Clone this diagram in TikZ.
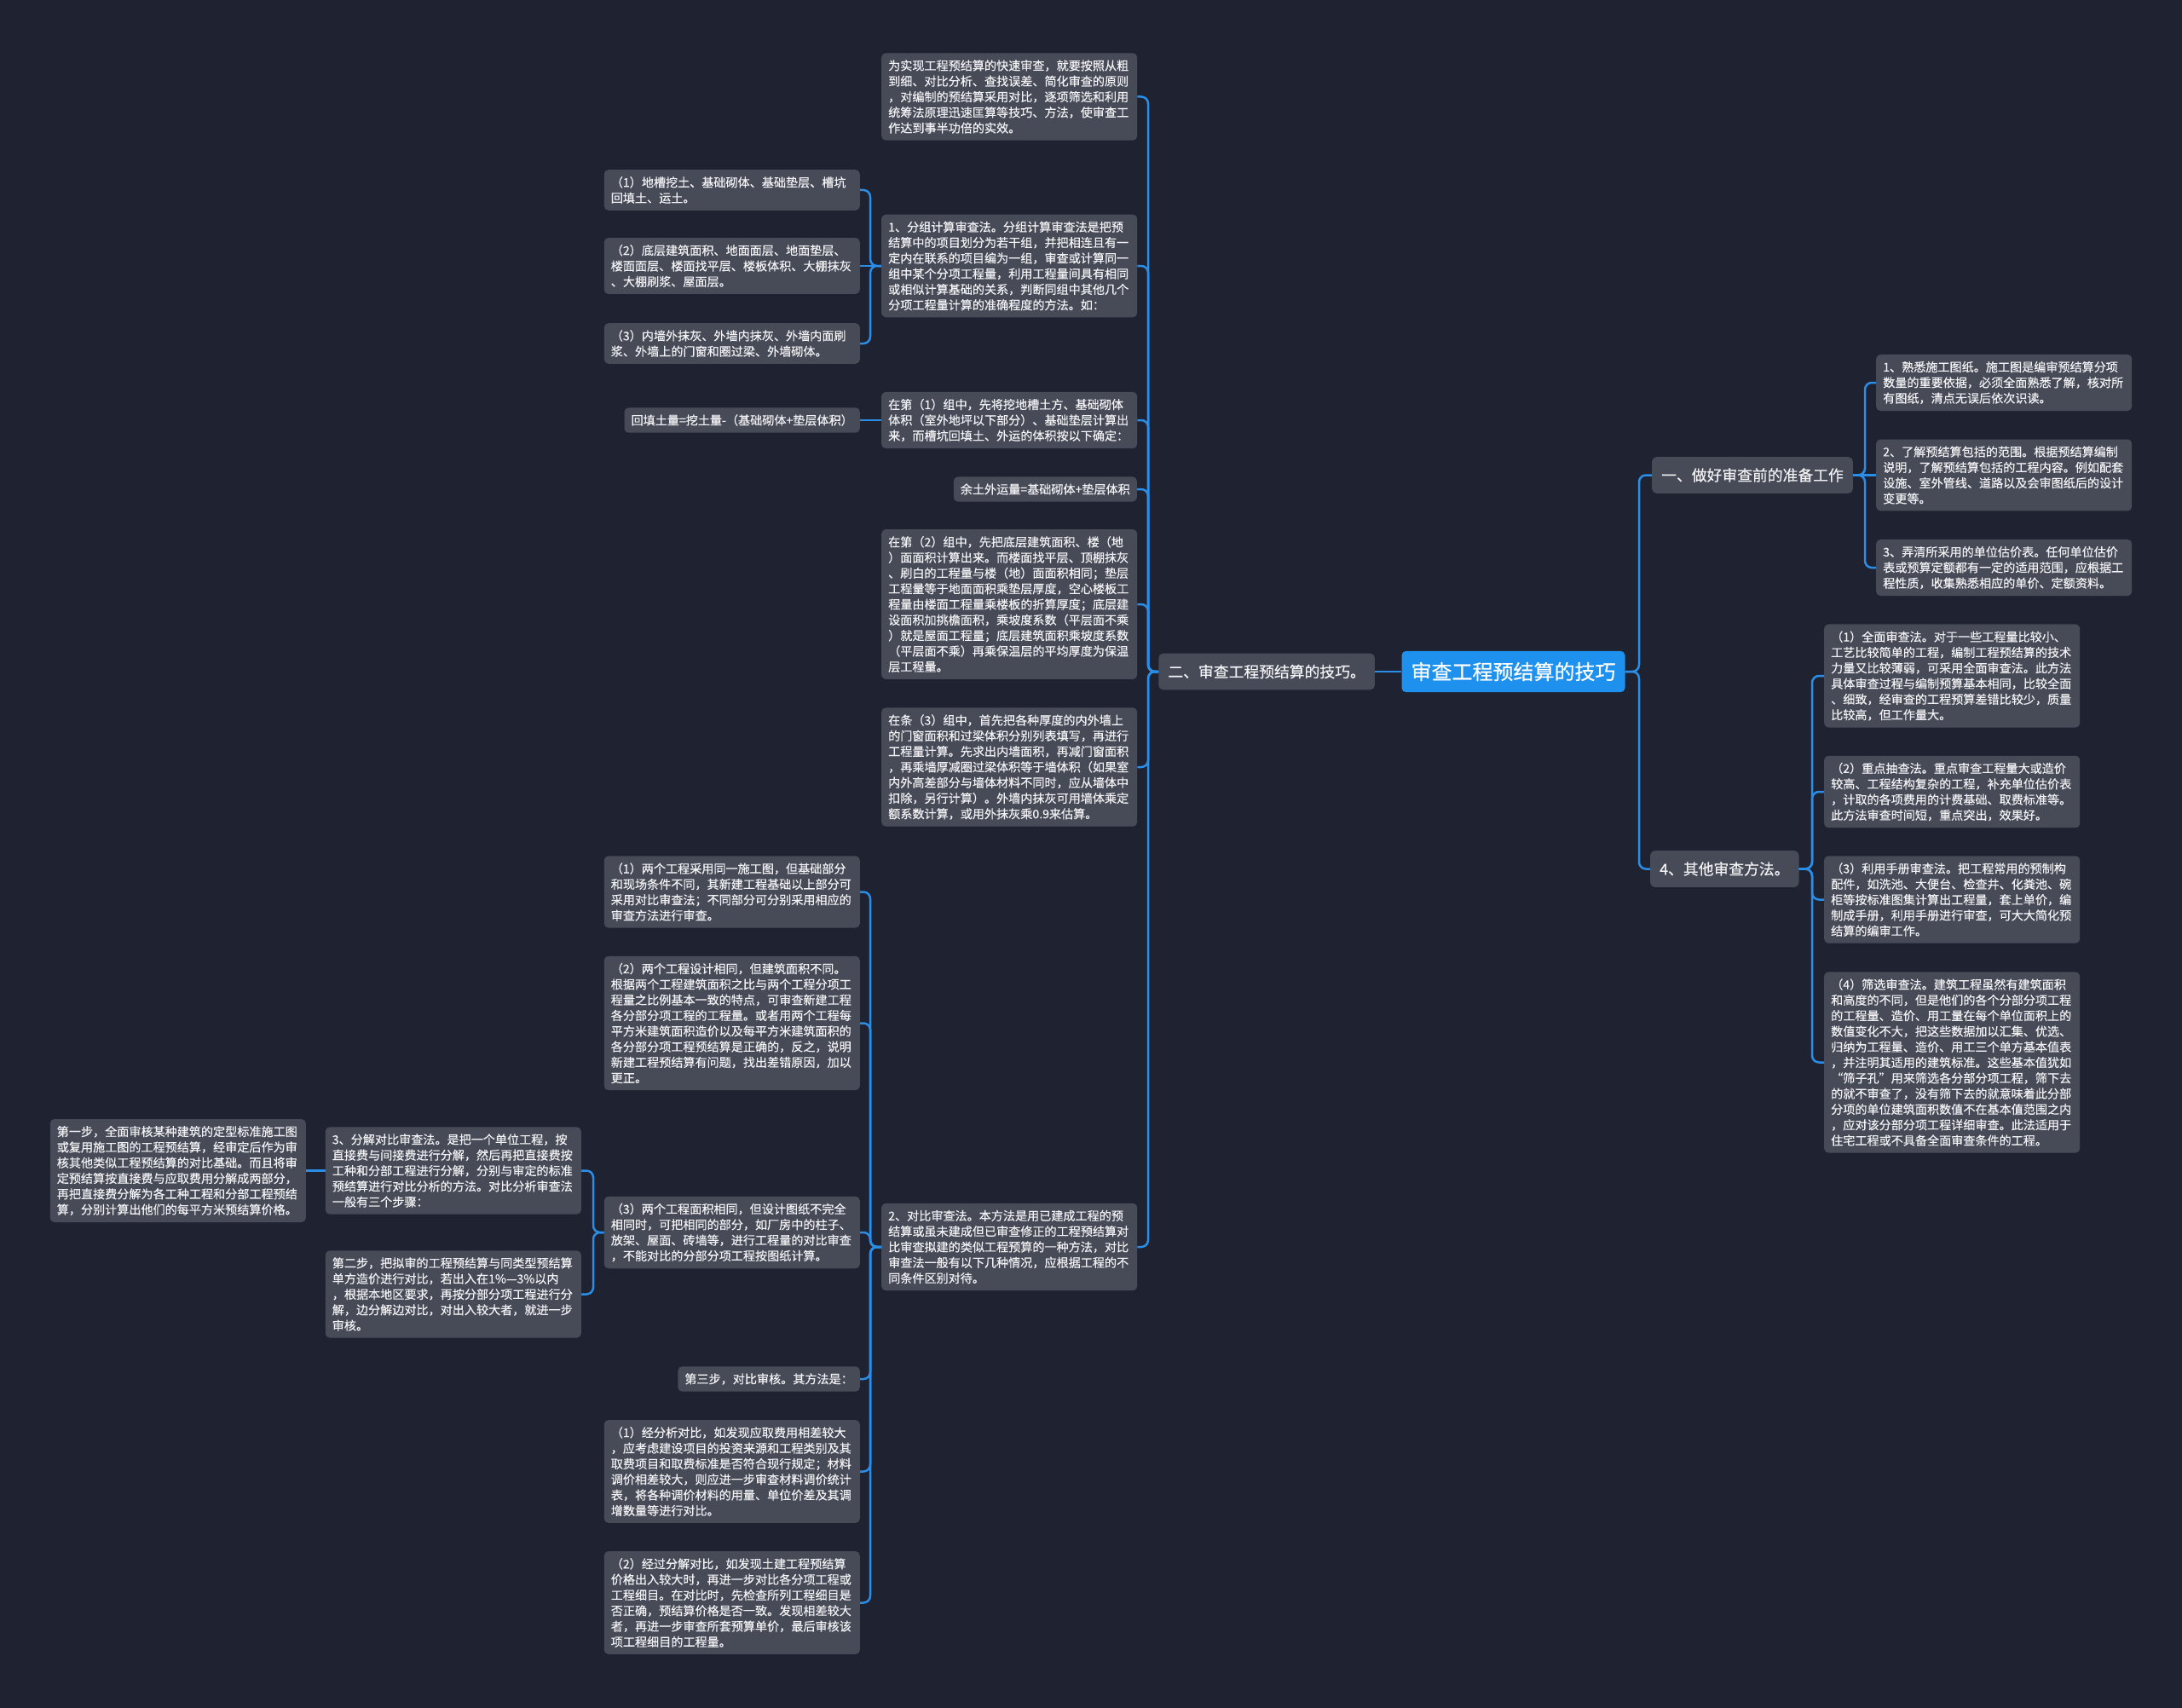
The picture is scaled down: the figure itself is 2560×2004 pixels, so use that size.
\documentclass[tikz,border=0pt]{standalone}
\usepackage{fontspec}
\setmainfont{Noto Sans CJK SC}[FakeBold=0.4]
\definecolor{bgc}{HTML}{1F2231}
\definecolor{nodefill}{HTML}{474B58}
\definecolor{txtc}{HTML}{F2F2F4}
\definecolor{linec}{HTML}{2A8DE6}
\definecolor{rootc}{HTML}{1E90EE}
\begin{document}
\begin{tikzpicture}[x=1pt,y=-1pt,
  box/.style={fill=nodefill, rounded corners=5pt, text=txtc, font=\fontsize{14.1}{18.3}\selectfont, align=left, text width=284pt, inner xsep=8pt, inner ysep=8pt},
  lone/.style={fill=nodefill, rounded corners=5pt, text=txtc, font=\fontsize{14.1}{18.3}\selectfont, inner xsep=8pt, inner ysep=8pt},
  mainn/.style={fill=nodefill, rounded corners=5pt, text=txtc, font=\fontsize{17.8}{22}\selectfont, inner xsep=11pt, inner ysep=13pt},
  rootn/.style={fill=rootc, rounded corners=5pt, text=white, font=\fontsize{24}{28}\selectfont, inner xsep=11pt, inner ysep=13pt},
  conn/.style={draw=linec, line width=2.5pt, rounded corners=8pt}]
\fill[bgc] (0,0) rectangle (2560,2004);
\useasboundingbox (0,0) rectangle (2560,2004);

% bars
\coordinate (bR) at (1923,0);
\coordinate (b1) at (2188,0);
\coordinate (b4) at (2126,0);
\coordinate (bM) at (1347,0);
\coordinate (bL) at (1021,0);
\coordinate (bF) at (696,0);

% root and main branches
\node[rootn] (root) at (1775.5,788) {审查工程预结算的技巧};
\node[mainn, anchor=east] (a2) at (1613,788) {二、审查工程预结算的技巧。};
\node[mainn, anchor=west] (a1) at (1938,557.5) {一、做好审查前的准备工作};
\node[mainn, anchor=west] (a4) at (1936,1019.5) {4、其他审查方法。};

% right group 1
\node[box, anchor=west] (r11) at (2201,449) {1、熟悉施工图纸。施工图是编审预结算分项\\数量的重要依据，必须全面熟悉了解，核对所\\有图纸，清点无误后依次识读。};
\node[box, anchor=west] (r12) at (2201,557.5) {2、了解预结算包括的范围。根据预结算编制\\说明，了解预结算包括的工程内容。例如配套\\设施、室外管线、道路以及会审图纸后的设计\\变更等。};
\node[box, anchor=west] (r13) at (2201,666) {3、弄清所采用的单位估价表。任何单位估价\\表或预算定额都有一定的适用范围，应根据工\\程性质，收集熟悉相应的单价、定额资料。};

% right group 4
\node[box, anchor=west] (r41) at (2140,793) {（1）全面审查法。对于一些工程量比较小、\\工艺比较简单的工程，编制工程预结算的技术\\力量又比较薄弱，可采用全面审查法。此方法\\具体审查过程与编制预算基本相同，比较全面\\、细致，经审查的工程预算差错比较少，质量\\比较高，但工作量大。};
\node[box, anchor=west] (r42) at (2140,929) {（2）重点抽查法。重点审查工程量大或造价\\较高、工程结构复杂的工程，补充单位估价表\\，计取的各项费用的计费基础、取费标准等。\\此方法审查时间短，重点突出，效果好。};
\node[box, anchor=west] (r43) at (2140,1055.5) {（3）利用手册审查法。把工程常用的预制构\\配件，如洗池、大便台、检查井、化粪池、碗\\柜等按标准图集计算出工程量，套上单价，编\\制成手册，利用手册进行审查，可大大简化预\\结算的编审工作。};
\node[box, anchor=west] (r44) at (2140,1246.5) {（4）筛选审查法。建筑工程虽然有建筑面积\\和高度的不同，但是他们的各个分部分项工程\\的工程量、造价、用工量在每个单位面积上的\\数值变化不大，把这些数据加以汇集、优选、\\归纳为工程量、造价、用工三个单方基本值表\\，并注明其适用的建筑标准。这些基本值犹如\\“筛子孔”用来筛选各分部分项工程，筛下去\\的就不审查了，没有筛下去的就意味着此分部\\分项的单位建筑面积数值不在基本值范围之内\\，应对该分部分项工程详细审查。此法适用于\\住宅工程或不具备全面审查条件的工程。};

% middle column
\node[box, anchor=west] (m0) at (1034,113.5) {为实现工程预结算的快速审查，就要按照从粗\\到细、对比分析、查找误差、简化审查的原则\\，对编制的预结算采用对比，逐项筛选和利用\\统筹法原理迅速匡算等技巧、方法，使审查工\\作达到事半功倍的实效。};
\node[box, anchor=west] (m1) at (1034,312) {1、分组计算审查法。分组计算审查法是把预\\结算中的项目划分为若干组，并把相连且有一\\定内在联系的项目编为一组，审查或计算同一\\组中某个分项工程量，利用工程量间具有相同\\或相似计算基础的关系，判断同组中其他几个\\分项工程量计算的准确程度的方法。如：};
\node[box, anchor=west] (m2) at (1034,493) {在第（1）组中，先将挖地槽土方、基础砌体\\体积（室外地坪以下部分）、基础垫层计算出\\来，而槽坑回填土、外运的体积按以下确定：};
\node[lone, anchor=east] (m3) at (1334,574) {余土外运量=基础砌体+垫层体积};
\node[box, anchor=west] (m4) at (1034,709) {在第（2）组中，先把底层建筑面积、楼（地\\）面面积计算出来。而楼面找平层、顶棚抹灰\\、刷白的工程量与楼（地）面面积相同；垫层\\工程量等于地面面积乘垫层厚度，空心楼板工\\程量由楼面工程量乘楼板的折算厚度；底层建\\设面积加挑檐面积，乘坡度系数（平层面不乘\\）就是屋面工程量；底层建筑面积乘坡度系数\\（平层面不乘）再乘保温层的平均厚度为保温\\层工程量。};
\node[box, anchor=west] (m5) at (1034,900) {在条（3）组中，首先把各种厚度的内外墙上\\的门窗面积和过梁体积分别列表填写，再进行\\工程量计算。先求出内墙面积，再减门窗面积\\，再乘墙厚减圈过梁体积等于墙体积（如果室\\内外高差部分与墙体材料不同时，应从墙体中\\扣除，另行计算）。外墙内抹灰可用墙体乘定\\额系数计算，或用外抹灰乘0.9来估算。};
\node[box, anchor=west] (m6) at (1034,1463) {2、对比审查法。本方法是用已建成工程的预\\结算或虽未建成但已审查修正的工程预结算对\\比审查拟建的类似工程预算的一种方法，对比\\审查法一般有以下几种情况，应根据工程的不\\同条件区别对待。};

% left column
\node[box, anchor=east] (l1) at (1009,223) {（1）地槽挖土、基础砌体、基础垫层、槽坑\\回填土、运土。};
\node[box, anchor=east] (l2) at (1009,312) {（2）底层建筑面积、地面面层、地面垫层、\\楼面面层、楼面找平层、楼板体积、大棚抹灰\\、大棚刷浆、屋面层。};
\node[box, anchor=east] (l3) at (1009,403) {（3）内墙外抹灰、外墙内抹灰、外墙内面刷\\浆、外墙上的门窗和圈过梁、外墙砌体。};
\node[lone, anchor=east] (l4) at (1009,493) {回填土量=挖土量-（基础砌体+垫层体积）};
\node[box, anchor=east] (l5) at (1009,1046.5) {（1）两个工程采用同一施工图，但基础部分\\和现场条件不同，其新建工程基础以上部分可\\采用对比审查法；不同部分可分别采用相应的\\审查方法进行审查。};
\node[box, anchor=east] (l6) at (1009,1200.5) {（2）两个工程设计相同，但建筑面积不同。\\根据两个工程建筑面积之比与两个工程分项工\\程量之比例基本一致的特点，可审查新建工程\\各分部分项工程的工程量。或者用两个工程每\\平方米建筑面积造价以及每平方米建筑面积的\\各分部分项工程预结算是正确的，反之，说明\\新建工程预结算有问题，找出差错原因，加以\\更正。};
\node[box, anchor=east] (l7) at (1009,1446) {（3）两个工程面积相同，但设计图纸不完全\\相同时，可把相同的部分，如厂房中的柱子、\\放架、屋面、砖墙等，进行工程量的对比审查\\，不能对比的分部分项工程按图纸计算。};
\node[lone, anchor=east] (l8) at (1009,1618) {第三步，对比审核。其方法是：};
\node[box, anchor=east] (l9) at (1009,1726.5) {（1）经分析对比，如发现应取费用相差较大\\，应考虑建设项目的投资来源和工程类别及其\\取费项目和取费标准是否符合现行规定；材料\\调价相差较大，则应进一步审查材料调价统计\\表，将各种调价材料的用量、单位价差及其调\\增数量等进行对比。};
\node[box, anchor=east] (l10) at (1009,1880.5) {（2）经过分解对比，如发现土建工程预结算\\价格出入较大时，再进一步对比各分项工程或\\工程细目。在对比时，先检查所列工程细目是\\否正确，预结算价格是否一致。发现相差较大\\者，再进一步审查所套预算单价，最后审核该\\项工程细目的工程量。};

% far left
\node[box, anchor=east] (f1) at (682,1373.5) {3、分解对比审查法。是把一个单位工程，按\\直接费与间接费进行分解，然后再把直接费按\\工种和分部工程进行分解，分别与审定的标准\\预结算进行对比分析的方法。对比分析审查法\\一般有三个步骤：};
\node[box, anchor=east] (f2) at (682,1518.5) {第二步，把拟审的工程预结算与同类型预结算\\单方造价进行对比，若出入在1\%—3\%以内\\，根据本地区要求，再按分部分项工程进行分\\解，边分解边对比，对出入较大者，就进一步\\审核。};
\node[box, anchor=east] (f0) at (359,1373.5) {第一步，全面审核某种建筑的定型标准施工图\\或复用施工图的工程预结算，经审定后作为审\\核其他类似工程预结算的对比基础。而且将审\\定预结算按直接费与应取费用分解成两部分，\\再把直接费分解为各工种工程和分部工程预结\\算，分别计算出他们的每平方米预结算价格。};

% connectors
\draw[conn] (root.west) -- (a2.east);
\foreach \c in {a1,a4} \draw[conn] (root.east) -- (root.east -| bR) |- (\c.west);
\foreach \c in {r11,r13} \draw[conn] (a1.east) -- (a1.east -| b1) |- (\c.west);
\draw[conn] (a1.east) -- (r12.west);
\foreach \c in {r41,r42,r43,r44} \draw[conn] (a4.east) -- (a4.east -| b4) |- (\c.west);
\foreach \c in {m0,m1,m2,m3,m4,m5,m6} \draw[conn] (a2.west) -- (a2.west -| bM) |- (\c.east);
\foreach \c in {l1,l3} \draw[conn] (m1.west) -- (m1.west -| bL) |- (\c.east);
\draw[conn] (m1.west) -- (l2.east);
\draw[conn] (m2.west) -- (l4.east);
\foreach \c in {l5,l6,l7,l8,l9,l10} \draw[conn] (m6.west) -- (m6.west -| bL) |- (\c.east);
\foreach \c in {f1,f2} \draw[conn] (l7.west) -- (l7.west -| bF) |- (\c.east);
\draw[conn] (f1.west) -- (f0.east);
\end{tikzpicture}
\end{document}
